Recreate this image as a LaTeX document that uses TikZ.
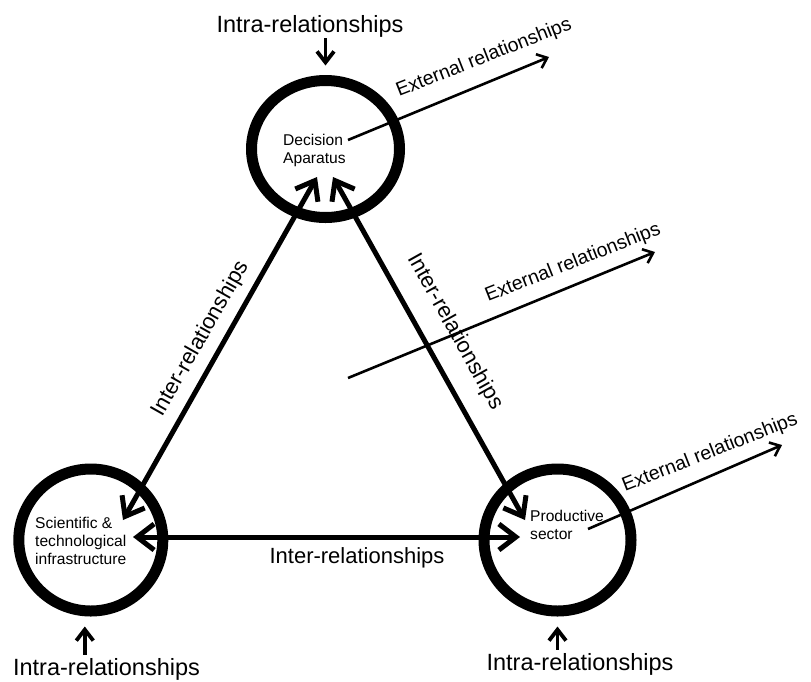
\documentclass[tikz,border=0pt]{standalone}
\usepackage{fontspec}
\setmainfont{Liberation Sans}
\usetikzlibrary{arrows.meta,shapes.geometric}
\begin{document}
\begin{tikzpicture}[x=1pt,y=-1pt,
  ring/.style={ellipse, draw=black, line width=11pt, inner sep=0pt},
  nodetext/.style={font=\fontsize{15.6}{18}\selectfont, align=left, inner sep=0pt},
  intralbl/.style={font=\fontsize{23.5}{28}\selectfont, inner sep=0pt},
  extlbl/.style={font=\fontsize{19.5}{23}\selectfont, inner sep=0pt, anchor=base west, rotate=21.5},
  interlbl/.style={font=\fontsize{22}{26}\selectfont, inner sep=0pt},
  inter/.style={line width=5pt,
    {Straight Barb[length=17pt,width=26pt]}-{Straight Barb[length=17pt,width=26pt]}},
  intra/.style={line width=3.8pt, -{Straight Barb[length=11pt,width=17pt]}},
  ext/.style={line width=2.6pt, -{Straight Barb[length=9pt,width=15pt]}},
]
\useasboundingbox (0,0) rectangle (811,681);

% the three subsystems
\node[ring, minimum width=148pt, minimum height=137pt] (dec) at (325.5,149) {};
\node[ring, minimum width=144pt, minimum height=142pt] (sci) at (90.8,540) {};
\node[ring, minimum width=147pt, minimum height=142pt] (prod) at (557.5,540) {};

\node[nodetext, anchor=west] (decT) at (283,150) {Decision\\Aparatus};
\node[nodetext, anchor=west] (sciT) at (35,541) {Scientific \&\\technological\\infrastructure};
\node[nodetext, anchor=west] (prodT) at (530,525) {Productive\\sector};

% arrow ends inside the rings
\coordinate (decTipL) at ([shift={(-8.5,28)}]dec.center);
\coordinate (decTipR) at ([shift={(7.5,28)}]dec.center);
\coordinate (sciTipD) at ([shift={(32.2,-20)}]sci.center);
\coordinate (sciTipH) at ([shift={(42.2,-3)}]sci.center);
\coordinate (prodTipD) at ([shift={(-32.5,-20)}]prod.center);
\coordinate (prodTipH) at ([shift={(-37.5,-3)}]prod.center);

% inter-relationships
\draw[inter] (sciTipD) -- (decTipL);
\draw[inter] (decTipR) -- (prodTipD);
\draw[inter] (sciTipH) -- (prodTipH);
\node[interlbl, rotate=60.5] (interL) at (201,339) {Inter-relationships};
\node[interlbl, rotate=-60.8] (interR) at (455,332) {Inter-relationships};
\node[interlbl, anchor=base] (interH) at (357,563) {Inter-relationships};

% intra-relationships
\node[intralbl, anchor=base] (intraDec) at (310,32) {Intra-relationships};
\node[intralbl, anchor=base] (intraSci) at (106.5,675) {Intra-relationships};
\node[intralbl, anchor=base] (intraProd) at (580,670) {Intra-relationships};
\coordinate (decIn) at ([yshift=9.5pt]dec.north);
\coordinate (sciIn) at ([xshift=-6pt,yshift=-10pt]sci.south);
\coordinate (prodIn) at ([yshift=-10pt]prod.south);
\draw[intra, shorten <=1pt] (intraDec.south -| decIn) -- (decIn);
\draw[intra, shorten <=3pt] (intraSci.north -| sciIn) -- (sciIn);
\draw[intra, shorten <=3pt] (intraProd.north -| prodIn) -- (prodIn);

% external relationships
\coordinate (decOut) at ([shift={(22.5,-9)}]dec.center);
\coordinate (decExt) at (549,57);
\coordinate (midOut) at (348,378);
\coordinate (midExt) at (655,252);
\coordinate (prodOut) at ([shift={(30.5,-11)}]prod.center);
\coordinate (prodExt) at (782,445);
\draw[ext] (decOut) -- (decExt);
\draw[ext] (midOut) -- (midExt);
\draw[ext] (prodOut) -- (prodExt);
\node[extlbl] (extDec) at (399,97) {External relationships};
\node[extlbl] (extMid) at (488,302) {External relationships};
\node[extlbl] (extProd) at (625,492) {External relationships};
\end{tikzpicture}
\end{document}
